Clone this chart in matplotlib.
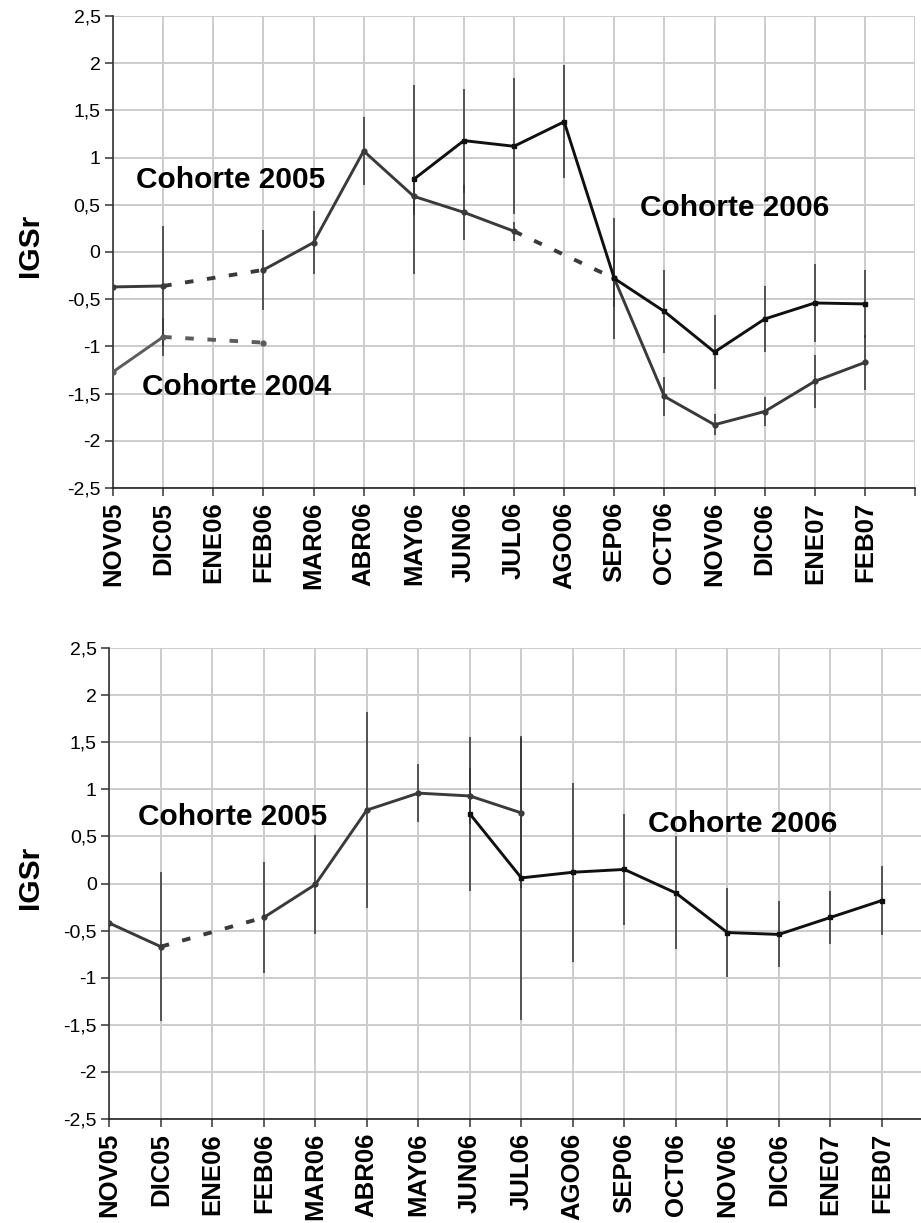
import numpy as np
import matplotlib
matplotlib.use("Agg")
import matplotlib.pyplot as plt

plt.rcParams['font.family'] = ['Liberation Sans', 'DejaVu Sans']

# month categories shared by both panels
months = ["NOV05", "DIC05", "ENE06", "FEB06", "MAR06", "ABR06", "MAY06", "JUN06",
          "JUL06", "AGO06", "SEP06", "OCT06", "NOV06", "DIC06", "ENE07", "FEB07"]
nan = np.nan

# upper panel
top_2005 = [-0.37, -0.36, nan, -0.19, 0.10, 1.07, 0.59, 0.42, 0.22, nan,
            -0.28, -1.53, -1.83, -1.69, -1.37, -1.17]
top_2005_err = [0, 0.64, nan, 0.42, 0.33, 0.36, 0.20, 0.29, 0.10, nan,
                0.30, 0.21, 0.11, 0.15, 0.28, 0.29]
top_2004 = [-1.27, -0.90, nan, -0.96] + [nan] * 12
top_2004_err = [0, 0.20, nan, 0] + [nan] * 12
top_2006 = [nan] * 6 + [0.77, 1.18, 1.12, 1.38, -0.28, -0.63, -1.06, -0.71, -0.54, -0.55]
top_2006_err = [nan] * 6 + [1.00, 0.55, 0.72, 0.60, 0.64, 0.44, 0.39, 0.35, 0.41, 0.36]

# lower panel
bot_2005 = [-0.42, -0.67, nan, -0.36, -0.01, 0.78, 0.96, 0.93, 0.75] + [nan] * 7
bot_2005_err = [0, 0.79, nan, 0.59, 0.53, 1.04, 0.31, 0.30, 0.80] + [nan] * 7
bot_2006 = [nan] * 7 + [0.74, 0.06, 0.12, 0.15, -0.10, -0.52, -0.54, -0.36, -0.18]
bot_2006_err = [nan] * 7 + [0.82, 1.51, 0.95, 0.59, 0.60, 0.47, 0.35, 0.28, 0.37]

C2004 = "#5c5c5c"
C2005 = "#3a3a3a"
C2006 = "#101010"


def draw_series(ax, vals, errs, color, marker, ms):
    x = np.arange(len(vals))
    y = np.array(vals, dtype=float)
    e = np.array(errs, dtype=float)
    ok = ~np.isnan(y) & ~np.isnan(e) & (np.nan_to_num(e) > 0)
    ax.errorbar(x[ok], y[ok], yerr=e[ok], fmt="none", ecolor="#333333",
                elinewidth=1.1, capsize=0, zorder=2)
    ax.plot(x, y, color=color, lw=2.1, marker=marker, ms=ms, zorder=3)
    # dashed link across interior missing months
    valid = np.where(~np.isnan(y))[0]
    for a, b in zip(valid[:-1], valid[1:]):
        if b - a > 1:
            ax.plot([x[a], x[b]], [y[a], y[b]], color=color, lw=2.8,
                    ls=(0, (2.2, 3.5)), zorder=3)


def setup(ax):
    ax.set_xlim(0, 16)
    ax.set_ylim(-2.5, 2.5)
    ax.set_yticks(np.arange(-2.5, 2.51, 0.5))
    ax.set_yticklabels([("%g" % v).replace(".", ",") for v in np.arange(-2.5, 2.51, 0.5)],
                       fontsize=14)
    ax.set_xticks(np.arange(17))
    ax.set_xticklabels(months + [""], rotation=90, fontsize=18.5, fontweight="bold")
    ax.grid(True, color="#cccccc", lw=1.4, zorder=0)
    ax.set_axisbelow(True)
    for s in ["top", "right"]:
        ax.spines[s].set_visible(False)
    ax.spines["left"].set_color("#333333")
    ax.spines["bottom"].set_color("#222222")
    ax.spines["left"].set_linewidth(1.2)
    ax.spines["bottom"].set_linewidth(1.2)
    ax.tick_params(axis="both", length=6, width=1.1, color="#333333", direction="out")
    ax.tick_params(axis="x", pad=4)
    ax.tick_params(axis="y", pad=3)


fig = plt.figure(figsize=(9.21, 12.23), dpi=100)

ax1 = fig.add_axes([0.1227, 0.6010, 0.8708, 0.3859])
setup(ax1)
draw_series(ax1, top_2004, top_2004_err, C2004, "o", 3.5)
draw_series(ax1, top_2005, top_2005_err, C2005, "o", 3.5)
draw_series(ax1, top_2006, top_2006_err, C2006, "s", 3.2)
ax1.text(2.34, 0.76, "Cohorte 2005", ha="center", va="center", fontsize=21.5, fontweight="bold")
ax1.text(2.47, -1.43, "Cohorte 2004", ha="center", va="center", fontsize=21.5, fontweight="bold")
ax1.text(12.41, 0.47, "Cohorte 2006", ha="center", va="center", fontsize=21.5, fontweight="bold")

ax2 = fig.add_axes([0.1187, 0.0850, 0.8947, 0.3851])
setup(ax2)
draw_series(ax2, bot_2005, bot_2005_err, C2005, "o", 3.5)
draw_series(ax2, bot_2006, bot_2006_err, C2006, "s", 3.2)
ax2.text(2.40, 0.71, "Cohorte 2005", ha="center", va="center", fontsize=21.5, fontweight="bold")
ax2.text(12.3, 0.63, "Cohorte 2006", ha="center", va="center", fontsize=21.5, fontweight="bold")

fig.text(30 / 921, 1 - 245 / 1223, "IGSr", rotation=90, ha="center", va="center",
         fontsize=21.5, fontweight="bold")
fig.text(30 / 921, 1 - 877 / 1223, "IGSr", rotation=90, ha="center", va="center",
         fontsize=21.5, fontweight="bold")

fig.savefig("out.png", dpi=100)
